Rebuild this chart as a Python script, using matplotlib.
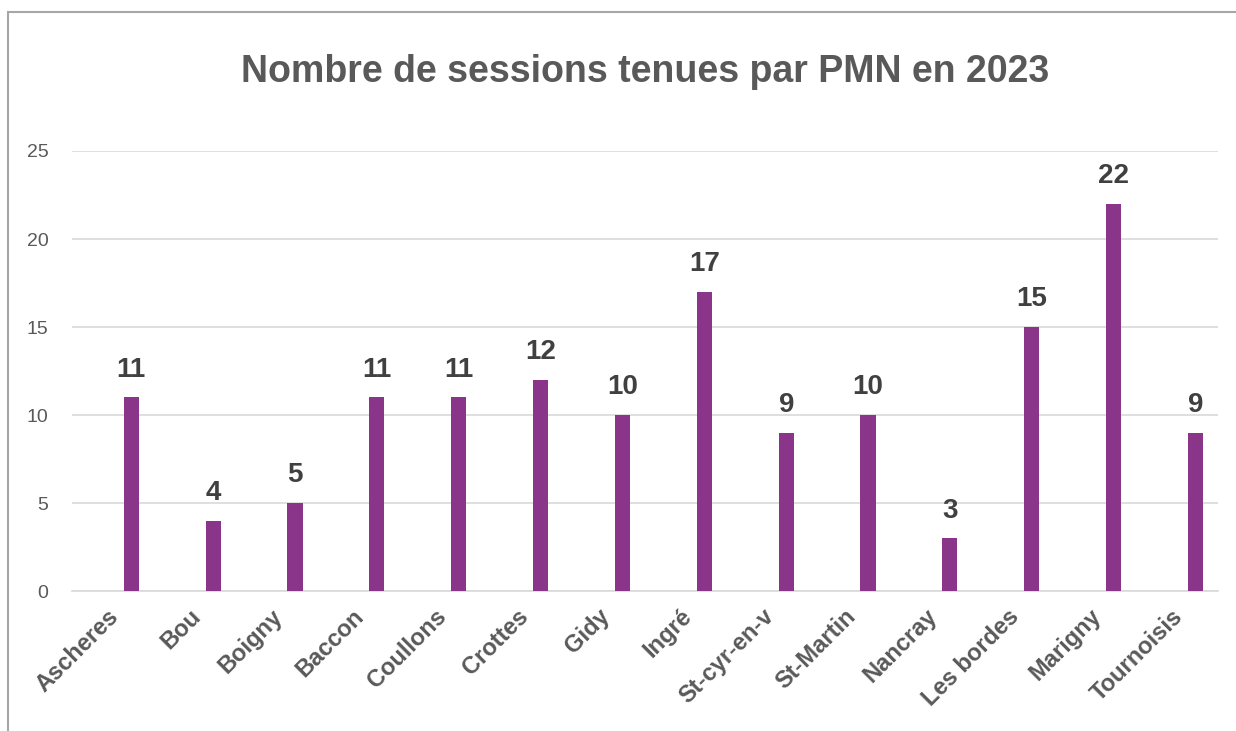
import matplotlib.pyplot as plt
from matplotlib.patches import Rectangle
from matplotlib.transforms import ScaledTranslation

# data
communes = ["Ascheres", "Bou", "Boigny", "Baccon", "Coullons", "Crottes", "Gidy",
            "Ingré", "St-cyr-en-v", "St-Martin", "Nancray", "Les bordes",
            "Marigny", "Tournoisis"]
sessions = [11, 4, 5, 11, 11, 12, 10, 17, 9, 10, 3, 15, 22, 9]
y_ticks = [0, 5, 10, 15, 20, 25]

plt.rcParams['font.family'] = ['Liberation Sans', 'DejaVu Sans']

fig = plt.figure(figsize=(12.36, 7.31), dpi=100)
ax = fig.add_axes([72 / 1236, 1 - 591 / 731, (1218 - 72) / 1236, (591 - 151) / 731])

# chart border (cropped on right and bottom like the original)
fig.patches.append(Rectangle((8 / 1236, -0.1), 1.2, 1 - 12 / 731 + 0.1,
                             transform=fig.transFigure, fill=False,
                             edgecolor="#A6A6A6", linewidth=1.5))

x = list(range(len(communes)))
# bars sit a little right of the category centre (as in the original Excel chart)
bar_x = [xi + 0.225 for xi in x]
ax.bar(bar_x, sessions, width=0.185, color="#8A3589", zorder=3)

for bx, v in zip(bar_x, sessions):
    ax.annotate(str(v), (bx, v), xytext=(0, 10.5), textcoords="offset points",
                ha="center", va="bottom", fontsize=20, fontweight="bold",
                color="#404040")

ax.set_xlim(-0.5, len(communes) - 0.5)
ax.set_ylim(0, 25)
ax.set_yticks(y_ticks)
ax.grid(axis="y", color="#D9D9D9", linewidth=1.2, zorder=0)
for s in ["top", "right", "left"]:
    ax.spines[s].set_visible(False)
ax.spines["bottom"].set_color("#D9D9D9")
ax.spines["bottom"].set_linewidth(1.2)
ax.tick_params(axis="both", length=0)
ax.tick_params(axis="y", pad=17, labelsize=14, labelcolor="#595959")

ax.set_xticks(x)
ax.set_xticklabels(communes, rotation=45, ha="right", rotation_mode="anchor",
                   fontsize=17, fontweight="bold", color="#595959")
ax.tick_params(axis="x", pad=10)
shift = ScaledTranslation(-6 / 100, 0, fig.dpi_scale_trans)
for lbl in ax.get_xticklabels():
    lbl.set_transform(lbl.get_transform() + shift)

fig.text(0.5222, 1 - 72 / 731, "Nombre de sessions tenues par PMN en 2023",
         ha="center", va="center", fontsize=27, fontweight="bold", color="#595959")

plt.savefig("out.png", dpi=100)
